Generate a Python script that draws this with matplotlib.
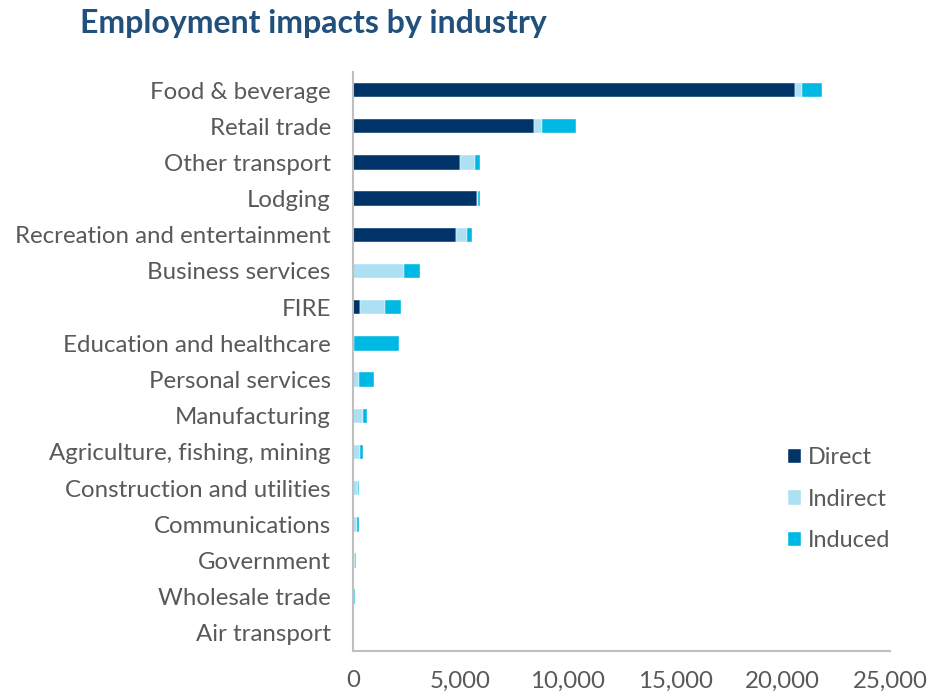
import matplotlib
matplotlib.use("Agg")
import matplotlib.pyplot as plt
import numpy as np

plt.rcParams['font.family'] = ['Lato', 'DejaVu Sans']

industries = [
    "Food & beverage", "Retail trade", "Other transport", "Lodging",
    "Recreation and entertainment", "Business services", "FIRE",
    "Education and healthcare", "Personal services", "Manufacturing",
    "Agriculture, fishing, mining", "Construction and utilities",
    "Communications", "Government", "Wholesale trade", "Air transport",
]
direct = [20560, 8430, 4980, 5775, 4780, 0, 310, 0, 0, 0, 0, 0, 0, 0, 0, 0]
indirect = [330, 390, 690, 65, 515, 2375, 1200, 30, 265, 450, 310, 220, 205, 95, 50, 0]
induced = [930, 1580, 260, 90, 245, 730, 710, 2110, 715, 220, 140, 45, 60, 60, 60, 0]

series_names = ["Direct", "Indirect", "Induced"]
colors = ["#003468", "#ade0f3", "#00b8e4"]
x_ticks = [0, 5000, 10000, 15000, 20000, 25000]

text_color = "#595959"
fs = 17.3

fig = plt.figure(figsize=(9.46, 6.96), dpi=100)
ax = fig.add_axes([0.3732, 0.0647, 0.5676, 0.8319])

y = np.arange(len(industries))
left = np.zeros(len(industries))
for name, vals, col in zip(series_names, [direct, indirect, induced], colors):
    vals = np.array(vals, dtype=float)
    ax.barh(y, vals, left=left, height=0.4, color=col, label=name,
            edgecolor="white", linewidth=0.3)
    left += vals

ax.set_ylim(len(industries) - 0.5, -0.5)
ax.set_xlim(0, 25000)
ax.set_yticks(y)
ax.set_yticklabels(industries, fontsize=fs, color=text_color)
ax.set_xticks(x_ticks)
ax.set_xticklabels([f"{v:,}" for v in x_ticks], fontsize=fs, color=text_color)
ax.tick_params(axis="y", length=0, pad=16)
ax.tick_params(axis="x", length=0, pad=14)

for s in ["top", "right"]:
    ax.spines[s].set_visible(False)
for s in ["left", "bottom"]:
    ax.spines[s].set_color("#bfbfbf")
    ax.spines[s].set_linewidth(1.5)

leg = ax.legend(loc="center left", bbox_to_anchor=(0.81, 0.262), frameon=False,
                fontsize=16.8, handlelength=0.55, handleheight=0.55,
                handletextpad=0.3, labelspacing=0.88,
                borderaxespad=0, borderpad=0)
for t in leg.get_texts():
    t.set_color(text_color)

fig.text(0.0846, 0.966, "Employment impacts by industry", fontsize=23,
         fontweight="bold", color="#22507c", ha="left", va="center")

fig.savefig("out.png", dpi=100)
